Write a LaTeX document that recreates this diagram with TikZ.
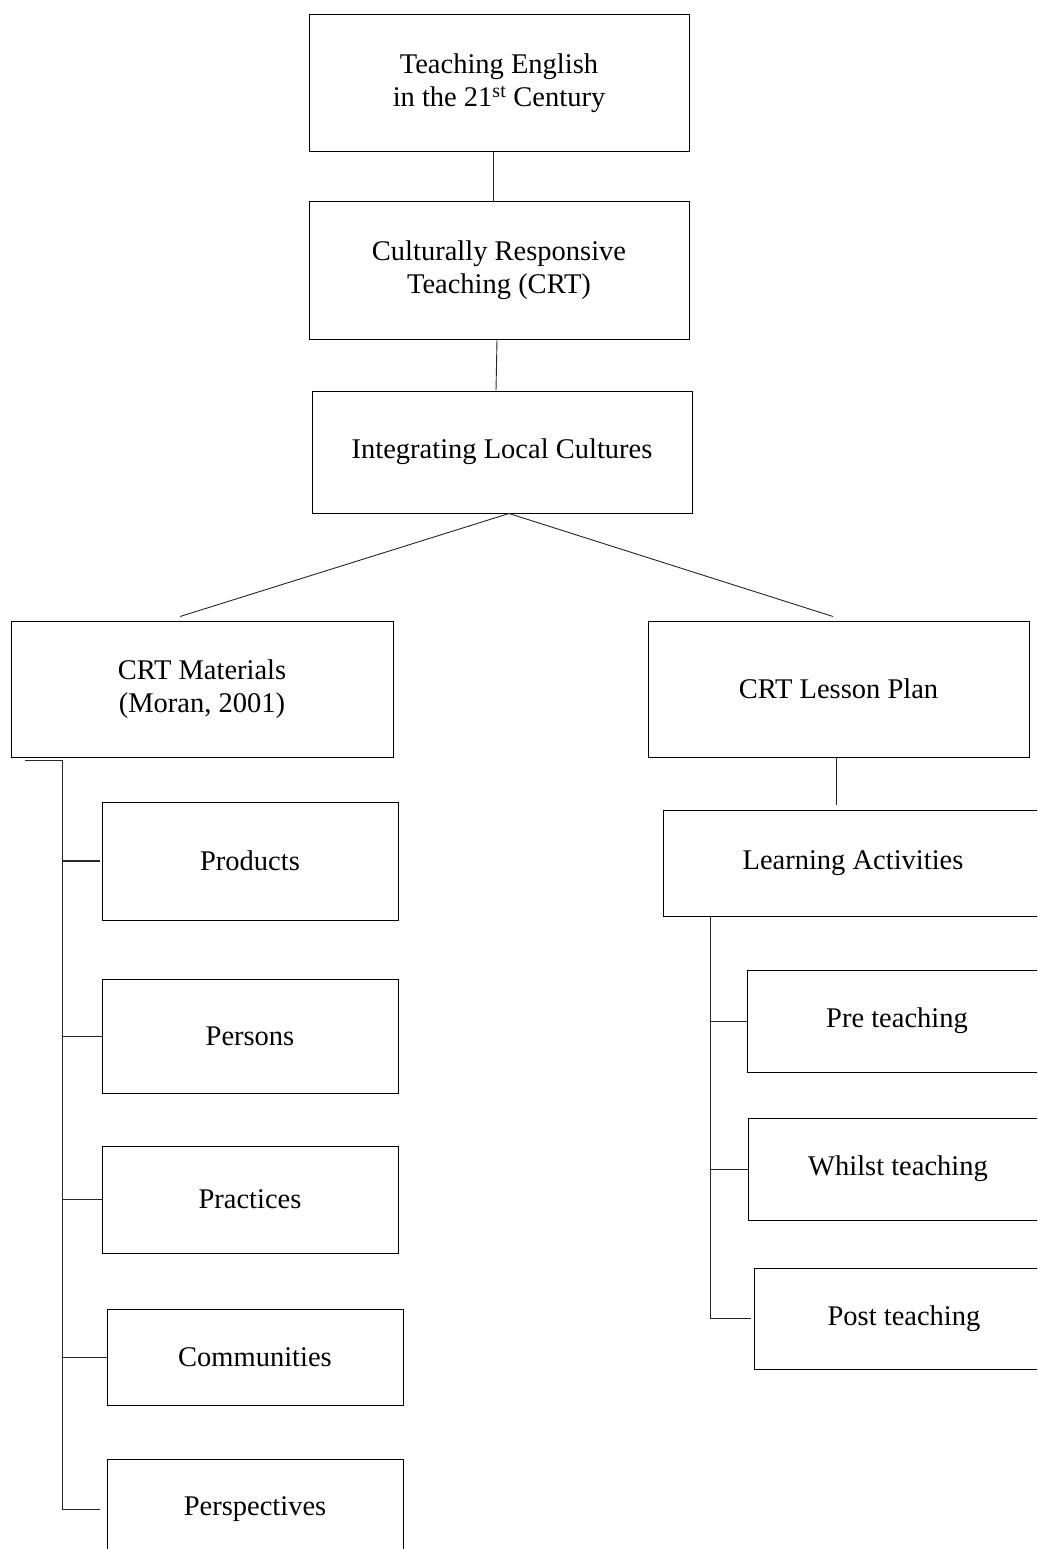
\documentclass[tikz,border=0pt]{standalone}
\usepackage{fontspec}
\setmainfont{Liberation Serif}
\usetikzlibrary{positioning}
\tikzset{
  box/.style={draw, line width=1pt, align=center, inner sep=0pt,
    font=\fontsize{28.5}{33}\selectfont},
  link/.style={line width=0.9pt, draw=black!85}
  }

\begin{document}
\begin{tikzpicture}[x=1pt, y=-1pt]

    \useasboundingbox (0,0) rectangle (1037,1549);
    \clip (0,0) rectangle (1037,1549);

    % main chain
    \node [box, minimum width=380pt, minimum height=137pt] at (499,83.5) (eng) {Teaching English\\in the 21\textsuperscript{st} Century};
    \node [box, minimum width=380pt, minimum height=137pt] at (499,270.5) (crt) {Culturally Responsive\\Teaching (CRT)};
    \node [box, minimum width=380pt, minimum height=122pt] at (502,452) (ilc) {Integrating Local Cultures};
    \node [box, minimum width=382pt, minimum height=136pt] at (202,689) (mat) {CRT Materials\\(Moran, 2001)};
    \node [box, minimum width=381pt, minimum height=136pt] at (838.5,689) (plan) {CRT Lesson Plan};
    \node [box, minimum width=380pt, minimum height=106pt] at (853,863) (act) {Learning Activities};

    % materials
    \node [box, minimum width=296pt, minimum height=118pt] at (250,861) (prod) {Products};
    \node [box, minimum width=296pt, minimum height=114pt] at (250,1036) (pers) {Persons};
    \node [box, minimum width=296pt, minimum height=107pt] at (250,1199.5) (prac) {Practices};
    \node [box, minimum width=296pt, minimum height=96pt] at (255,1357) (comm) {Communities};
    \node [box, minimum width=296pt, minimum height=100pt] at (255,1509) (persp) {Perspectives};

    % activities
    \node [box, minimum width=300pt, minimum height=102pt] at (897,1021) (pre) {Pre teaching};
    \node [box, minimum width=300pt, minimum height=102pt] at (898,1169) (whl) {Whilst teaching};
    \node [box, minimum width=300pt, minimum height=101pt] at (904,1318.5) (post) {Post teaching};

    \draw [link] ([xshift=-6pt]eng.south) -- ([xshift=-6pt]crt.north);
    \draw [link] ([xshift=-2pt]crt.south) -- ([xshift=-6pt]ilc.north);
    \draw [link] ([xshift=7pt]ilc.south) -- ([xshift=-22pt, yshift=4pt]mat.north);
    \draw [link] ([xshift=7pt]ilc.south) -- ([xshift=-5.5pt, yshift=4pt]plan.north);
    \draw [link] ([xshift=-2.5pt]plan.south) -- ([xshift=-17pt, yshift=5pt]act.north);

    \coordinate (mstub) at (25,760);
    \coordinate (mbus) at (62,760);
    \draw [link] (mstub) -- (mbus) |- ([xshift=-7pt]persp.west);
    \draw [link, line width=1.6pt] (mbus |- prod.west) -- ([xshift=-2pt]prod.west);
    \foreach \b in {pers, prac, comm}
      \draw [link] (mbus |- \b.west) -- (\b.west);

    \coordinate (abus) at ([xshift=48pt]act.south west);
    \draw [link] (abus) |- ([xshift=-3pt]post.west);
    \foreach \b in {pre, whl}
      \draw [link] (abus |- \b.west) -- (\b.west);

\end{tikzpicture}
\end{document}
